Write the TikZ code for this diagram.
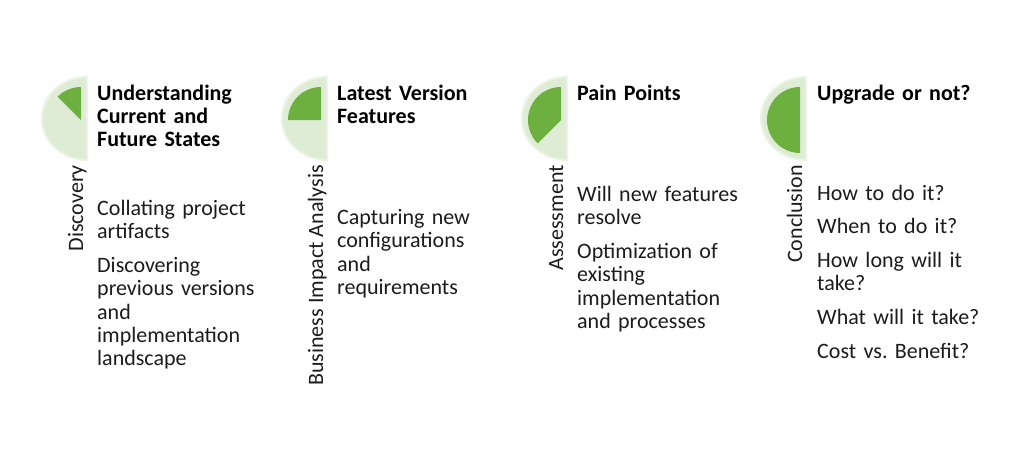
\documentclass[tikz,border=0pt]{standalone}
\usepackage{fontspec}
\setmainfont{Carlito}
\definecolor{palegreen}{RGB}{222,236,213}
\definecolor{rimgreen}{RGB}{234,243,228}
\definecolor{leafgreen}{RGB}{108,177,64}
\definecolor{inktext}{RGB}{28,28,28}

\begin{document}
\begin{tikzpicture}[x=1pt, y=1pt,
    dial/.style={fill=palegreen, draw=rimgreen, line width=2pt},
    wedge/.style={fill=leafgreen},
    title/.style={anchor=base west, inner sep=0pt, text width=200pt, align=left,
        font=\fontsize{22}{23.4}\selectfont\bfseries, text=black},
    item/.style={anchor=base west, inner sep=0pt, text width=200pt, align=left,
        font=\fontsize{22}{23.4}\selectfont, text=inktext},
    phase/.style={rotate=90, anchor=base east, inner sep=0pt,
        font=\fontsize{22}{23.4}\selectfont, text=inktext}]
    \fill[white] (0,0) rectangle (1024,-450);
    \useasboundingbox (0,0) rectangle (1024,-450);

    % Dials
    \coordinate (c1) at (87,-118.5);
    \coordinate (c2) at (327,-118.5);
    \coordinate (c3) at (567,-118.5);
    \coordinate (c4) at (806,-118.5);
    \filldraw[dial] (c1) -- ++(0,41.5) arc[start angle=90, end angle=270, x radius=45pt, y radius=41.5pt] -- cycle;
    \filldraw[dial] (c2) -- ++(0,41.5) arc[start angle=90, end angle=270, x radius=45pt, y radius=41.5pt] -- cycle;
    \filldraw[dial] (c3) -- ++(0,41.5) arc[start angle=90, end angle=270, x radius=45pt, y radius=41.5pt] -- cycle;
    \filldraw[dial] (c4) -- ++(0,41.5) arc[start angle=90, end angle=270, x radius=45pt, y radius=41.5pt] -- cycle;
    \fill[wedge] ([shift={(-6,-1.5)}]c1) -- ++(0,33) arc[start angle=90, end angle=135, radius=33pt] -- cycle;
    \fill[wedge] ([shift={(-6,-1.5)}]c2) -- ++(0,33) arc[start angle=90, end angle=180, radius=33pt] -- cycle;
    \fill[wedge] ([shift={(-6,-1.5)}]c3) -- ++(0,33) arc[start angle=90, end angle=225, radius=33pt] -- cycle;
    \fill[wedge] ([shift={(-6,-1.5)}]c4) -- ++(0,33) arc[start angle=90, end angle=270, radius=33pt] -- cycle;

    % Titles
    \node[title] (t1) at (97,-100) {Understanding\\Current and\\Future States};
    \node[title] (t2) at (337,-100) {Latest Version\\Features};
    \node[title] (t3) at (577,-100) {Pain Points};
    \node[title] (t4) at (817,-100) {Upgrade or not?};

    % Phases
    \node[phase] (p1) at (83,-165) {Discovery};
    \node[phase] (p2) at (323,-165) {Business Impact Analysis};
    \node[phase] (p3) at (563,-165) {Assessment};
    \node[phase] (p4) at (802,-165) {Conclusion};

    % Items
    \node[item] (i1) at (97,-215) {Collating project\\artifacts\\[10.5pt]
        Discovering\\previous versions\\and\\implementation\\landscape};
    \node[item] (i2) at (337,-224.5) {Capturing new\\configurations\\and\\requirements};
    \node[item] (i3) at (577,-201) {Will new features\\resolve\\[10.5pt]
        Optimization of\\existing\\implementation\\and processes};
    \node[item] (i4) at (817,-200) {How to do it?\\[10.3pt]When to do it?\\[10.3pt]
        How long will it\\take?\\[10.3pt]What will it take?\\[10.3pt]Cost vs.\ Benefit?};
\end{tikzpicture}
\end{document}
